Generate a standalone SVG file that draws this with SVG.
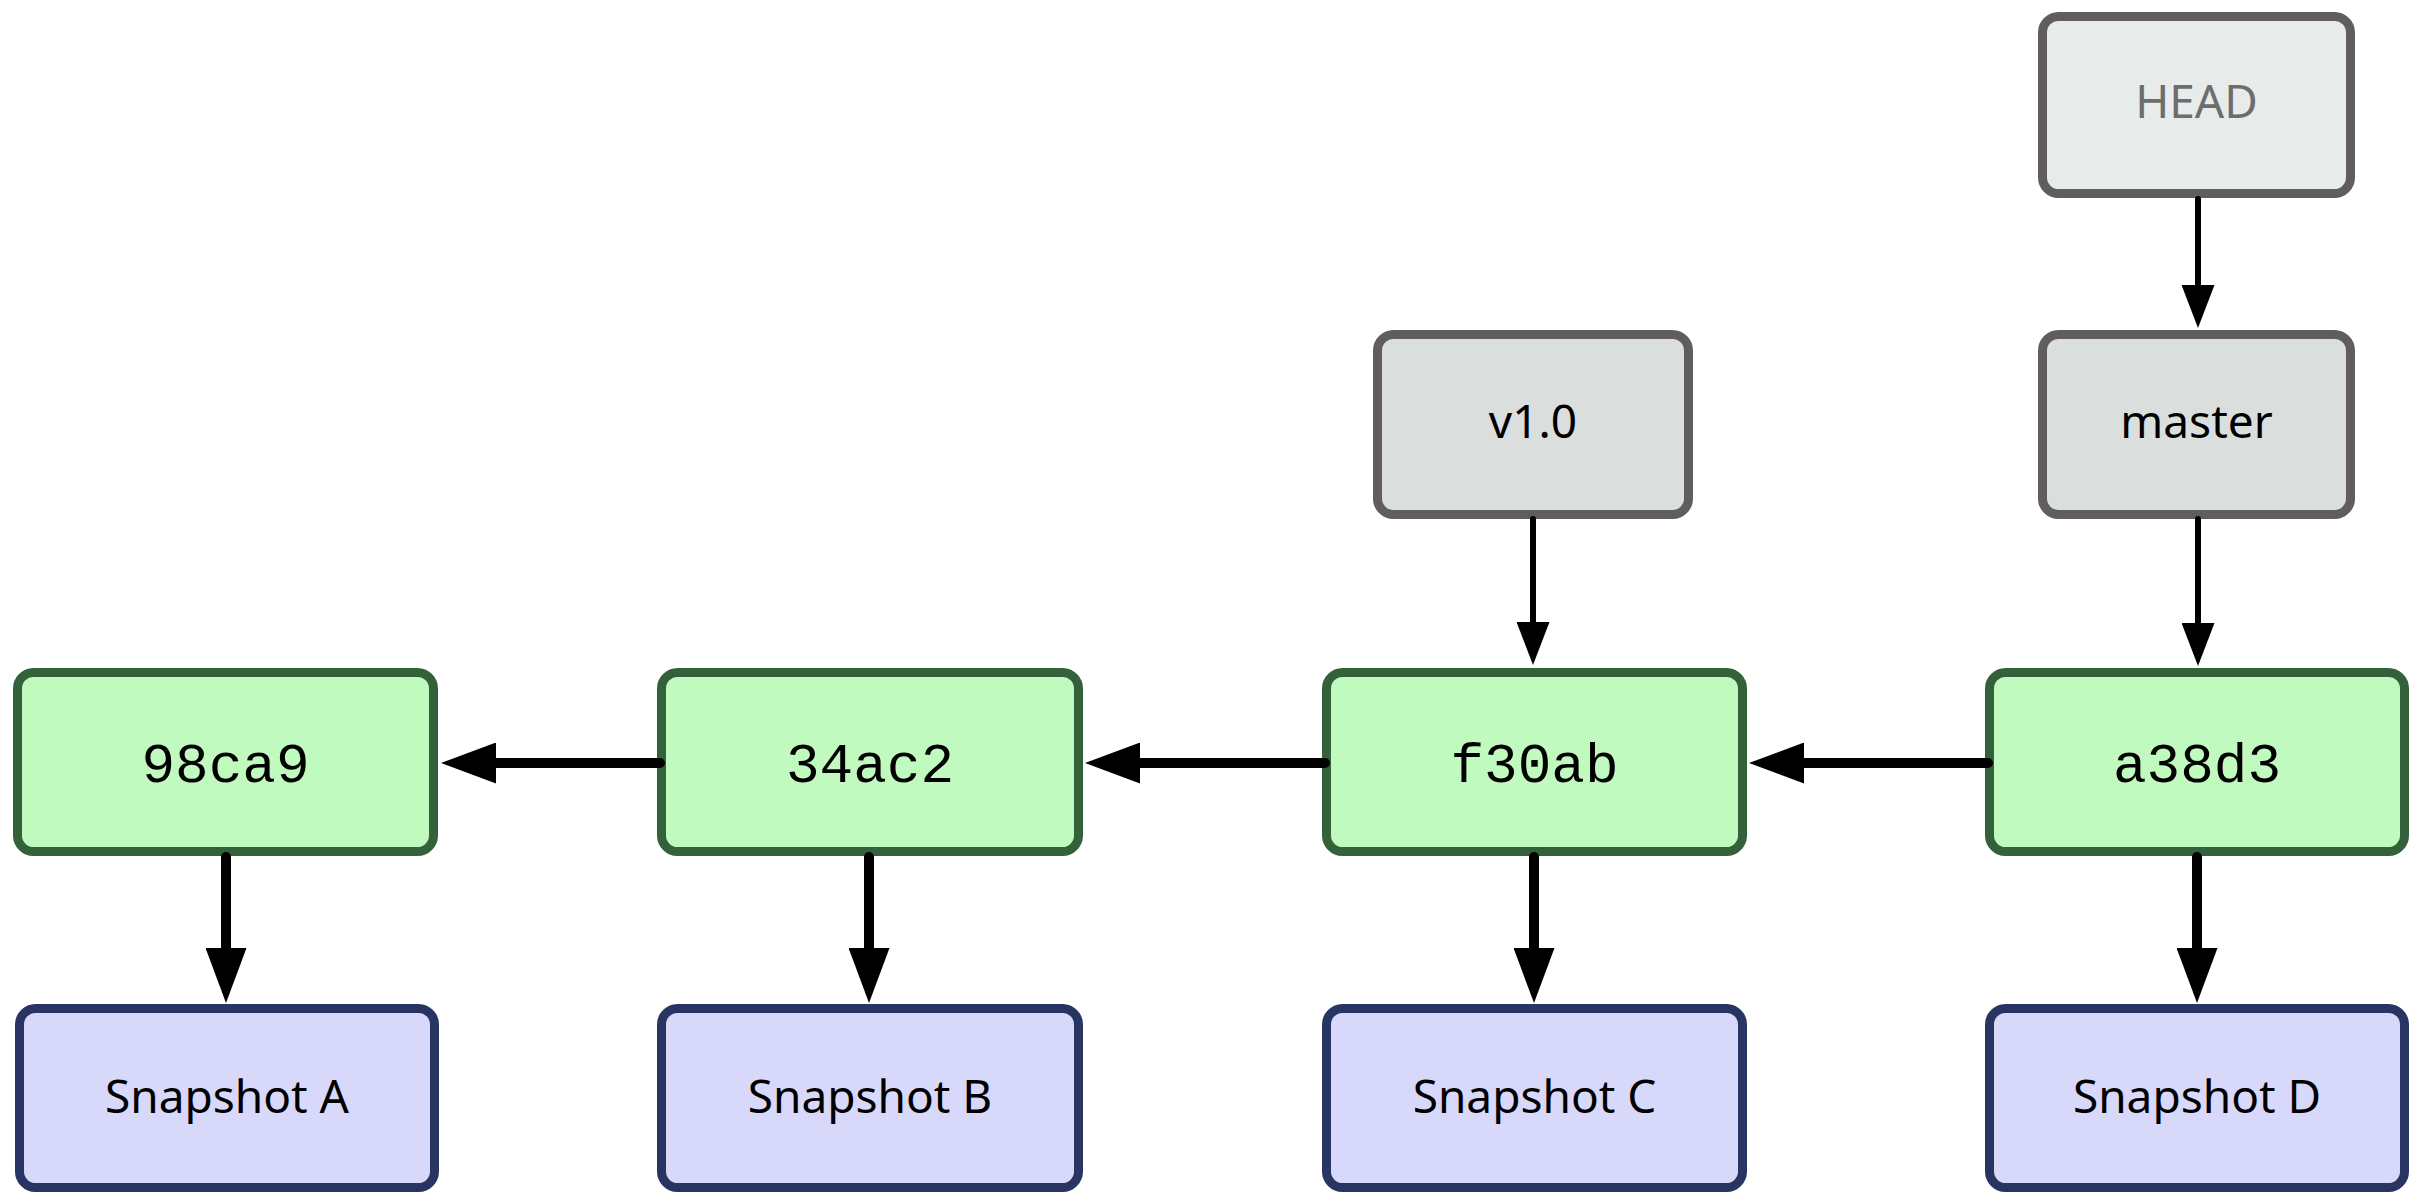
<svg xmlns="http://www.w3.org/2000/svg" width="2429" height="1193" viewBox="0 0 2429 1193">
  <style>
    .box { stroke-width: 9; }
    .ref { fill: #dadedd; stroke: #615d5d; }
    .head { fill: #e7ebea; stroke: #615d5d; }
    .commit { fill: #c1fabe; stroke: #33613a; }
    .snap { fill: #d8d8fb; stroke: #283462; }
    .sans { font-family: "Noto Sans", "Open Sans", sans-serif; font-size: 46px; text-anchor: middle; fill: #000; }
    .mono { font-family: "Liberation Mono", "DejaVu Sans Mono", monospace; font-size: 56px; text-anchor: middle; fill: #000; }
    .thin { stroke: #000; stroke-width: 6; fill: none; stroke-linecap: round; }
    .thick { stroke: #000; stroke-width: 10; fill: none; stroke-linecap: round; }
  </style>
  <defs>
    <marker id="headThick" markerUnits="userSpaceOnUse" viewBox="0 0 55 41" refX="0" refY="20.5" markerWidth="55" markerHeight="41" orient="auto">
      <path d="M0,0 L55,20.5 L0,41 Z" fill="#000"/>
    </marker>
    <marker id="headThin" markerUnits="userSpaceOnUse" viewBox="0 0 43 33" refX="0" refY="16.5" markerWidth="43" markerHeight="33" orient="auto">
      <path d="M0,0 L43,16.5 L0,33 Z" fill="#000"/>
    </marker>
  </defs>

  <g id="HEAD">
    <rect class="box head" x="2042.5" y="16.5" width="308" height="177" rx="16"/>
    <text class="sans" x="2196.5" y="118" fill="#6d6d6d" style="fill:#6d6d6d">HEAD</text>
  </g>
  <g id="master">
    <rect class="box ref" x="2042.5" y="334.5" width="308" height="180" rx="16"/>
    <text class="sans" x="2196.5" y="438">master</text>
  </g>
  <g id="v1.0">
    <rect class="box ref" x="1377.5" y="334.5" width="311" height="180" rx="16"/>
    <text class="sans" x="1533" y="438">v1.0</text>
  </g>

  <g id="c98ca9">
    <rect class="box commit" x="17.5" y="672.5" width="416" height="179" rx="16"/>
    <text class="mono" x="225.5" y="782">98ca9</text>
  </g>
  <g id="c34ac2">
    <rect class="box commit" x="661.5" y="672.5" width="417" height="179" rx="16"/>
    <text class="mono" x="870" y="782">34ac2</text>
  </g>
  <g id="cf30ab">
    <rect class="box commit" x="1326.5" y="672.5" width="416" height="179" rx="16"/>
    <text class="mono" x="1534.5" y="782">f30ab</text>
  </g>
  <g id="ca38d3">
    <rect class="box commit" x="1989.5" y="672.5" width="415" height="179" rx="16"/>
    <text class="mono" x="2197" y="782">a38d3</text>
  </g>

  <g id="snapA">
    <rect class="box snap" x="19.5" y="1008.5" width="415" height="179" rx="16"/>
    <text class="sans" x="227" y="1113">Snapshot A</text>
  </g>
  <g id="snapB">
    <rect class="box snap" x="661.5" y="1008.5" width="417" height="179" rx="16"/>
    <text class="sans" x="870" y="1113">Snapshot B</text>
  </g>
  <g id="snapC">
    <rect class="box snap" x="1326.5" y="1008.5" width="416" height="179" rx="16"/>
    <text class="sans" x="1534.5" y="1113">Snapshot C</text>
  </g>
  <g id="snapD">
    <rect class="box snap" x="1989.5" y="1008.5" width="415" height="179" rx="16"/>
    <text class="sans" x="2197" y="1113">Snapshot D</text>
  </g>

  <g id="connectors">
    <line class="thin" x1="2198" y1="199" x2="2198" y2="285" marker-end="url(#headThin)"/>
    <line class="thin" x1="2198" y1="519" x2="2198" y2="623" marker-end="url(#headThin)"/>
    <line class="thin" x1="1533" y1="519" x2="1533" y2="622" marker-end="url(#headThin)"/>

    <line class="thick" x1="660" y1="763" x2="496" y2="763" marker-end="url(#headThick)"/>
    <line class="thick" x1="1325" y1="763" x2="1140" y2="763" marker-end="url(#headThick)"/>
    <line class="thick" x1="1988" y1="763" x2="1804" y2="763" marker-end="url(#headThick)"/>

    <line class="thick" x1="226" y1="857" x2="226" y2="948" marker-end="url(#headThick)"/>
    <line class="thick" x1="869" y1="857" x2="869" y2="948" marker-end="url(#headThick)"/>
    <line class="thick" x1="1534" y1="857" x2="1534" y2="948" marker-end="url(#headThick)"/>
    <line class="thick" x1="2197" y1="857" x2="2197" y2="948" marker-end="url(#headThick)"/>
  </g>
</svg>
